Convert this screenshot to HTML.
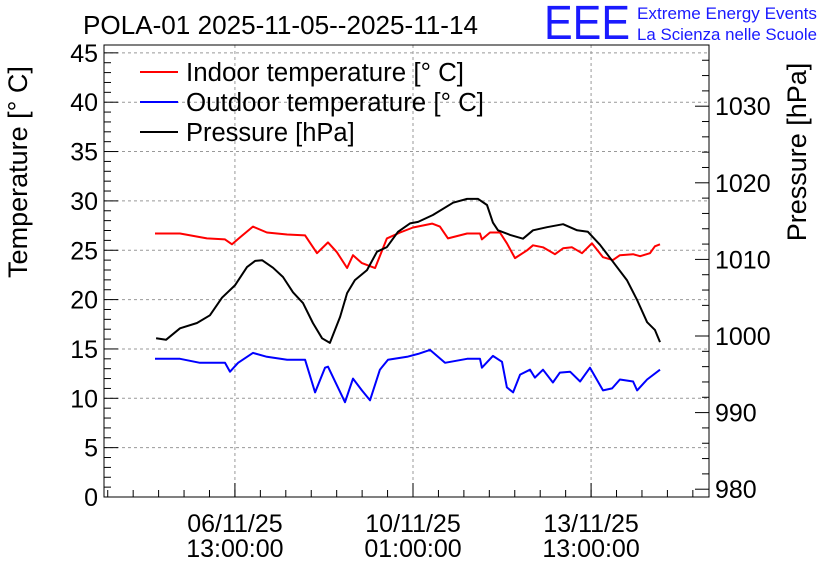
<!DOCTYPE html>
<html><head><meta charset="utf-8"><style>
html,body{margin:0;padding:0;background:#fff}
svg{display:block;font-family:"Liberation Sans",sans-serif}
</style></head><body>
<svg id="chart" width="836" height="572" xmlns="http://www.w3.org/2000/svg">
<text x="83" y="34" font-size="25.5" textLength="395" lengthAdjust="spacingAndGlyphs">POLA-01 2025-11-05--2025-11-14</text>
<text x="544" y="39" font-size="48" fill="#1a1aff" textLength="86" lengthAdjust="spacingAndGlyphs">EEE</text>
<text x="637" y="19" font-size="16.5" fill="#1a1aff" textLength="180" lengthAdjust="spacingAndGlyphs">Extreme Energy Events</text>
<text x="637" y="40" font-size="16.5" fill="#1a1aff" textLength="180" lengthAdjust="spacingAndGlyphs">La Scienza nelle Scuole</text>
<text transform="translate(27,172) rotate(-90)" text-anchor="middle" font-size="27">Temperature [° C]</text>
<text transform="translate(806,152) rotate(-90)" text-anchor="middle" font-size="27">Pressure [hPa]</text>
<g id="grid"></g><g id="axes"></g><g id="series"></g>
<g font-size="25.5">
<line x1="140" y1="72" x2="178" y2="72" stroke="#f00" stroke-width="2"/><text x="186" y="81" textLength="278" lengthAdjust="spacingAndGlyphs">Indoor temperature [° C]</text>
<line x1="140" y1="102" x2="178" y2="102" stroke="#00f" stroke-width="2"/><text x="186" y="111" textLength="298" lengthAdjust="spacingAndGlyphs">Outdoor temperature [° C]</text>
<line x1="140" y1="132" x2="178" y2="132" stroke="#000" stroke-width="2"/><text x="186" y="141">Pressure [hPa]</text>
</g>
</svg>
<script>
const tickHours=[37.7,121.7,205.7];
const tickDates=["06/11/25","10/11/25","13/11/25"];
const tickTimes=["13:00:00","01:00:00","13:00:00"];
const tempTicks=[0,5,10,15,20,25,30,35,40,45];
const presTicks=[980,990,1000,1010,1020,1030];
const presT=[0.5,5.2,11.8,19.8,25.9,31.6,37.7,43.4,47.2,50.5,55.7,60.4,65.1,69.8,74.5,78.8,82.5,87.3,90.6,94.3,100,104.7,109.4,114.6,120.3,124.1,131.1,140.6,147.2,152.4,156.6,159.4,161.8,167.5,173.6,178.3,184.9,192.5,199.1,204.2,209.9,216,222.6,227.4,232.1,235.8,238.2];
const presV=[999.7,999.5,1001,1001.7,1002.7,1005,1006.6,1009,1009.8,1009.9,1008.9,1007.7,1005.7,1004.3,1001.7,999.7,999.1,1002.5,1005.6,1007.3,1008.6,1011,1011.6,1013.6,1014.7,1014.9,1015.8,1017.4,1017.9,1017.9,1017.1,1014.8,1013.8,1013.2,1012.7,1013.8,1014.2,1014.6,1013.8,1013.6,1011.9,1009.7,1007.3,1004.7,1001.8,1000.8,999.2];
const inT=[0,11.8,24.5,33,36.3,40.1,46.2,52.8,62.3,70.8,76.4,81.6,85.8,90.6,93.4,97.6,103.8,109.4,115.6,121.7,130.7,134.4,138.2,147.2,153.3,154.2,158,162.7,166,169.8,175.5,178.3,183,188.7,192.5,196.7,201.4,206.1,211.3,216,219.3,225.5,228.8,233.5,235.8,238.2];
const inV=[26.7,26.7,26.2,26.1,25.6,26.3,27.4,26.8,26.6,26.5,24.7,25.8,24.8,23.2,24.5,23.7,23.2,26.2,26.8,27.3,27.7,27.4,26.2,26.7,26.7,26.1,26.8,26.8,25.7,24.2,25.0,25.5,25.3,24.6,25.2,25.3,24.7,25.7,24.3,24.0,24.5,24.6,24.4,24.7,25.4,25.6];
const outT=[0,11.8,21.2,33,35.4,39.2,46.2,52.8,62.3,70.8,75.5,80.2,81.6,89.6,93.4,97.6,101.4,106.1,109.9,118.9,124.1,129.7,136.8,147.2,153.3,154.2,159.4,163.7,166,168.9,172.2,176.9,179.2,183,187.7,191,195.8,200.5,205.2,211.3,215.6,219.3,225.5,227.4,232.1,238.2];
const outV=[14.0,14.0,13.6,13.6,12.7,13.6,14.6,14.2,13.9,13.9,10.6,13.1,13.2,9.6,12.0,10.8,9.8,12.9,13.9,14.2,14.5,14.9,13.6,14.0,14.0,13.1,14.3,13.7,11.1,10.6,12.4,12.9,12.1,12.9,11.6,12.6,12.7,11.7,13.1,10.8,11.0,11.9,11.7,10.8,11.9,12.9];

const L=104,R=709,T=45,B=497;
const xS=h=>155+h*2.12;
const yT=v=>B-v*9.87;
const yP=v=>336-(v-1000)*7.66;
const NS="http://www.w3.org/2000/svg";
function mk(tag,attrs,parent,txt){const e=document.createElementNS(NS,tag);for(const k in attrs)e.setAttribute(k,attrs[k]);if(txt!==undefined)e.textContent=txt;parent.appendChild(e);return e;}
const grid=document.getElementById('grid'),axes=document.getElementById('axes'),ser=document.getElementById('series');
tempTicks.forEach(v=>{const y=yT(v);
 if(v>0){const g=mk('line',{x1:L,x2:R,y1:y,y2:y,stroke:'#999','stroke-dasharray':'3,3'},grid);
 
 }
 mk('line',{x1:L,x2:L+14,y1:y,y2:y,stroke:'#000'},axes);
 const t=mk('text',{x:L-6,y:y+9,'text-anchor':'end','font-size':25},axes,String(v));
 
 
});
for(let v=1;v<46;v++){if(v%5)mk('line',{x1:L,x2:L+7,y1:yT(v),y2:yT(v),stroke:'#000'},axes);}
presTicks.forEach(v=>{const y=yP(v);
 mk('line',{x1:R-14,x2:R,y1:y,y2:y,stroke:'#000'},axes);
 const t=mk('text',{x:R+6,y:y+9,'font-size':25},axes,String(v));
 
 
});
for(let v=980;v<1038;v+=2){if(v%10)mk('line',{x1:R-7,x2:R,y1:yP(v),y2:yP(v),stroke:'#000'},axes);}
tickHours.forEach((h,i)=>{const x=xS(h);
 const g=mk('line',{x1:x,x2:x,y1:T,y2:B,stroke:'#999','stroke-dasharray':'3,3'},grid);
 
 
 mk('line',{x1:x,x2:x,y1:B-14,y2:B,stroke:'#000'},axes);
 const t1=mk('text',{x:x,y:532,'text-anchor':'middle','font-size':25},axes,tickDates[i]);
 
 
 const t2=mk('text',{x:x,y:557,'text-anchor':'middle','font-size':25},axes,tickTimes[i]);
 
 
});
for(let h=tickHours[0]-84;h<260;h+=12){const x=xS(h);if(x>L&&x<R)mk('line',{x1:x,x2:x,y1:B-7,y2:B,stroke:'#000'},axes);}
const fr=mk('rect',{x:L,y:T,width:R-L,height:B-T,fill:'none',stroke:'#000'},axes);


function line(ts,vs,ys,col,name){const d=ts.map((t,i)=>(i?'L':'M')+xS(t).toFixed(1)+','+ys(vs[i]).toFixed(1)).join('');
 const p=mk('path',{d:d,fill:'none',stroke:col,'stroke-width':2,'stroke-linejoin':'round'},ser);
 
 }
line(inT,inV,yT,'#f00','indoor-temperature-line');
line(outT,outV,yT,'#00f','outdoor-temperature-line');
line(presT,presV,yP,'#000','pressure-line');
</script>
</body></html>
